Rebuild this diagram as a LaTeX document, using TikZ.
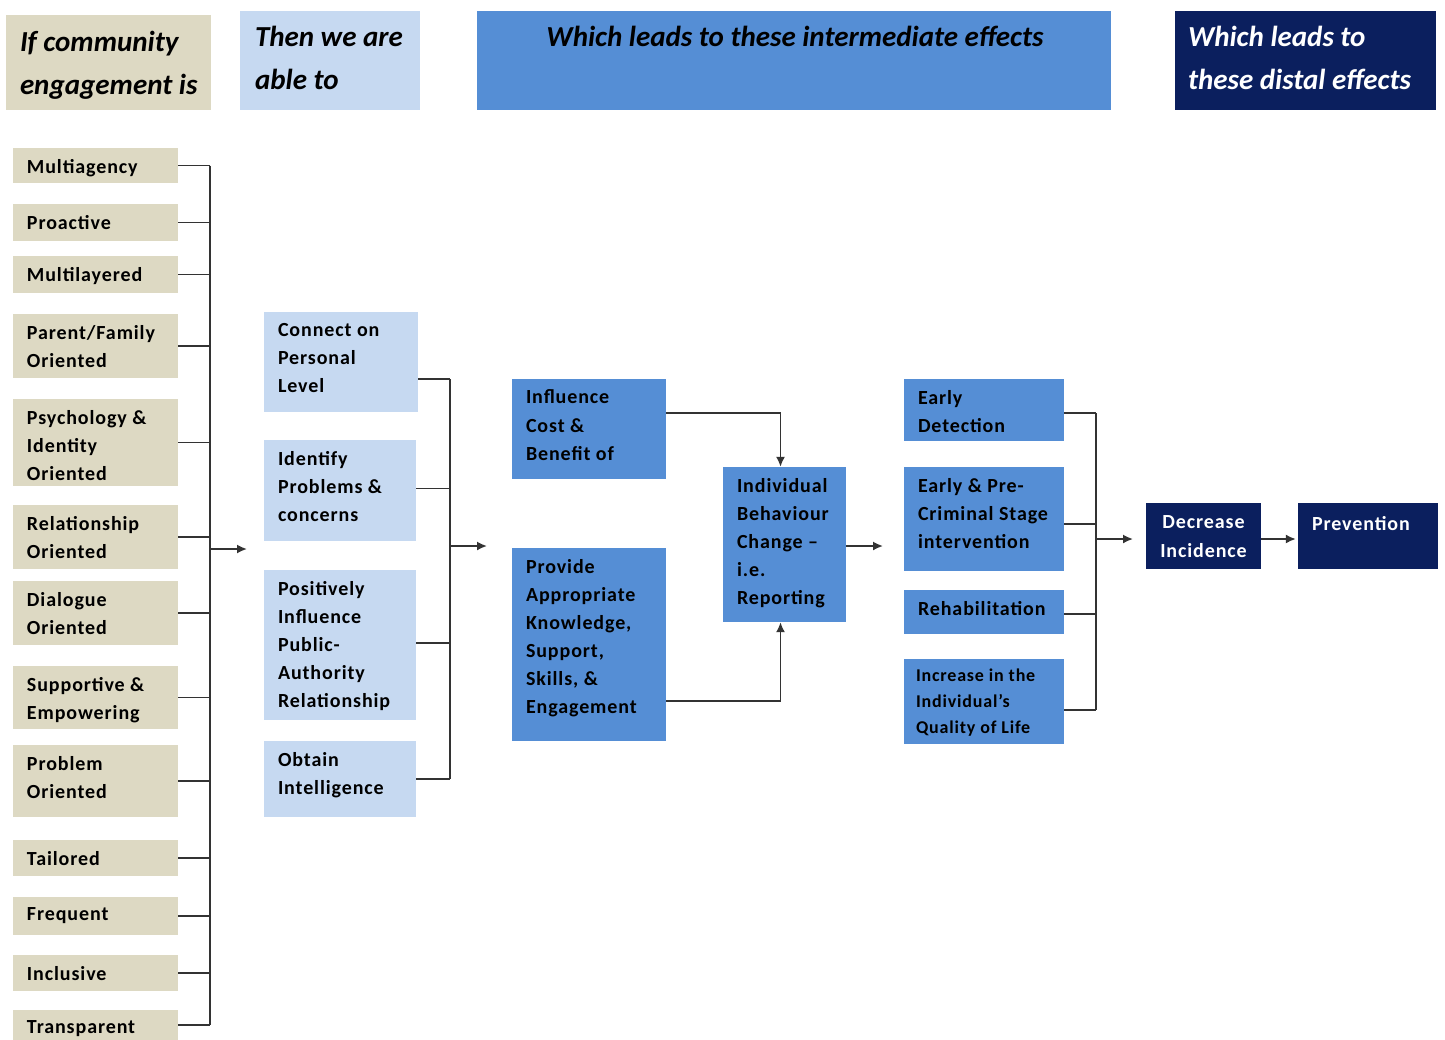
\documentclass[tikz,border=0pt]{standalone}
\usepackage{fontspec}
\setmainfont{Carlito}
\usetikzlibrary{fit,arrows.meta,calc}
\definecolor{tanbg}{HTML}{DDD9C3}
\definecolor{ltblue}{HTML}{C6D9F1}
\definecolor{midblue}{HTML}{558ED5}
\definecolor{navy}{HTML}{0B1F5E}
\definecolor{linec}{HTML}{333333}
\tikzset{
  x=1pt, y=-1pt,
  tanbox/.style={fill=tanbg, inner sep=0pt, draw=none},
  lbbox/.style={fill=ltblue, inner sep=0pt, draw=none},
  mbbox/.style={fill=midblue, inner sep=0pt, draw=none},
  nvbox/.style={fill=navy, inner sep=0pt, draw=none},
  txt/.style={anchor=north west, inner sep=0pt, align=left, text=black,
     font={\fontsize{20}{28.1}\selectfont\bfseries\addfontfeature{LetterSpace=4.5}}},
  smalltxt/.style={txt, font={\fontsize{18}{26}\selectfont\bfseries\addfontfeature{LetterSpace=4.5}}},
  headtxt/.style={anchor=north west, inner sep=0pt, align=left,
     font={\fontsize{29}{43}\selectfont\bfseries\itshape}},
  conn/.style={draw=linec, line width=1.7pt},
  arr/.style={conn, -{Latex[length=10pt,width=9pt]}},
}
\newcommand\bx[7]{%
  \node[#6, fit={(#2,#3) (#4,#5)}] (#1) {};
  \node[txt] (#1t) at ([xshift=14pt,yshift=-11pt]#1.north west) {#7};
}
\begin{document}
\begin{tikzpicture}
\useasboundingbox (0,0) rectangle (1445,1039);
\clip (0,0) rectangle (1445,1039);
\fill[white] (0,0) rectangle (1445,1039);

% headers
\node[tanbox, fit={(6,15) (211,110)}] (h1) {};
\node[headtxt] (h1t) at ([xshift=14pt,yshift=-16pt]h1.north west) {If community\\engagement is};
\node[lbbox, fit={(240,11) (420,110)}] (h2) {};
\node[headtxt] (h2t) at ([xshift=15pt,yshift=-15pt]h2.north west) {Then we are\\able to};
\node[mbbox, fit={(477,11) (1111,110)}] (h3) {};
\node[headtxt, anchor=north] (h3t) at ([xshift=1pt,yshift=-15pt]h3.north) {Which leads to these intermediate effects};
\node[nvbox, fit={(1175,11) (1436,110)}] (h4) {};
\node[headtxt, text=white] (h4t) at ([xshift=13pt,yshift=-15pt]h4.north west) {Which leads to\\these distal effects};

% column 1
\bx{a1}{13}{148}{178}{183}{tanbox}{Multiagency}
\bx{a2}{13}{204}{178}{241}{tanbox}{Proactive}
\bx{a3}{13}{256}{178}{293}{tanbox}{Multilayered}
\bx{a4}{13}{314}{178}{378}{tanbox}{Parent/Family\\Oriented}
\bx{a5}{13}{399}{178}{486}{tanbox}{Psychology \&\\Identity\\Oriented}
\bx{a6}{13}{505}{178}{569}{tanbox}{Relationship\\Oriented}
\bx{a7}{13}{581}{178}{645}{tanbox}{Dialogue\\Oriented}
\bx{a8}{13}{666}{178}{729}{tanbox}{Supportive \&\\Empowering}
\bx{a9}{13}{745}{178}{817}{tanbox}{Problem\\Oriented}
\bx{a10}{13}{840}{178}{876}{tanbox}{Tailored}
\bx{a11}{13}{897}{178}{935}{tanbox}{Frequent}
\bx{a12}{13}{955}{178}{991}{tanbox}{Inclusive}
\bx{a13}{13}{1010}{178}{1040}{tanbox}{Transparent}

\coordinate (bus1) at (210,0);
\foreach \n in {a1,a2,a3,a4,a5,a6,a7,a8,a9,a10,a11,a12,a13}
  \draw[conn] (\n.east) -- (\n.east -| bus1);
\draw[conn] (a1.east -| bus1) -- (a13.east -| bus1);
\coordinate (a1s) at (210,549);
\coordinate (a1e) at (247,549);
\draw[arr] (a1s) -- (a1e);

% column 2
\bx{b1}{264}{312}{418}{412}{lbbox}{Connect on\\Personal\\Level}
\bx{b2}{264}{440}{416}{541}{lbbox}{Identify\\Problems \&\\concerns}
\bx{b3}{264}{570}{416}{720}{lbbox}{Positively\\Influence\\Public-\\Authority\\Relationship}
\bx{b4}{264}{741}{416}{817}{lbbox}{Obtain\\Intelligence}

\coordinate (bus2) at (450,0);
\draw[conn] ([yshift=-17pt]b1.east) -- ([yshift=-17pt]b1.east -| bus2);
\draw[conn] ([yshift=2pt]b2.east) -- ([yshift=2pt]b2.east -| bus2);
\draw[conn] ([yshift=2pt]b3.east) -- ([yshift=2pt]b3.east -| bus2);
\draw[conn] (b4.east) -- (b4.east -| bus2);
\draw[conn] ([yshift=-17pt]b1.east -| bus2) -- (b4.east -| bus2);
\coordinate (a2s) at (450,546);
\coordinate (a2e) at (487,546);
\draw[arr] (a2s) -- (a2e);

% column 3
\bx{c1}{512}{379}{666}{479}{mbbox}{Influence\\Cost \&\\Benefit of}
\bx{c2}{512}{548}{666}{741}{mbbox}{Provide\\Appropriate\\Knowledge,\\Support,\\Skills, \&\\Engagement}
\bx{c3}{723}{467}{846}{622}{mbbox}{Individual\\Behaviour\\Change –\\i.e.\\Reporting}
\draw[arr] ([yshift=16pt]c1.east) -| ([xshift=-4pt]c3.north);
\draw[arr] ([yshift=-56.5pt]c2.east) -| ([xshift=-4pt]c3.south);
\coordinate (a3e) at (883,546);
\draw[arr] ([yshift=-1.5pt]c3.east) -- (a3e);

% column 4
\bx{d1}{904}{379}{1064}{441}{mbbox}{Early\\Detection}
\bx{d2}{904}{467}{1064}{571}{mbbox}{Early \& Pre-\\Criminal Stage\\intervention}
\bx{d3}{904}{590}{1064}{634}{mbbox}{Rehabilitation}
\node[mbbox, fit={(904,659) (1064,744)}] (d4) {};
\node[smalltxt] (d4t) at ([xshift=12pt,yshift=-10pt]d4.north west) {Increase in the\\Individual’s\\Quality of Life};

\coordinate (bus4) at (1096,0);
\draw[conn] ([yshift=-3pt]d1.east) -- ([yshift=-3pt]d1.east -| bus4);
\draw[conn] ([yshift=-5pt]d2.east) -- ([yshift=-5pt]d2.east -| bus4);
\draw[conn] ([yshift=-2pt]d3.east) -- ([yshift=-2pt]d3.east -| bus4);
\draw[conn] ([yshift=-8.5pt]d4.east) -- ([yshift=-8.5pt]d4.east -| bus4);
\draw[conn] ([yshift=-3pt]d1.east -| bus4) -- ([yshift=-8.5pt]d4.east -| bus4);
\coordinate (a4s) at (1096,539);
\coordinate (a4e) at (1133,539);
\draw[arr] (a4s) -- (a4e);

% distal
\node[nvbox, fit={(1146,503) (1261,569)}] (e1) {};
\node[txt, anchor=north, align=center, text=white] (e1t) at ([yshift=-13pt]e1.north) {Decrease\\Incidence};
\node[nvbox, fit={(1298,503) (1438,569)}] (e2) {};
\node[txt, text=white] (e2t) at ([xshift=14pt,yshift=-13pt]e2.north west) {Prevention};
\draw[arr] ([yshift=-3pt]e1.east) -- ([yshift=-3pt,xshift=-2pt]e2.west);
\end{tikzpicture}
\end{document}
